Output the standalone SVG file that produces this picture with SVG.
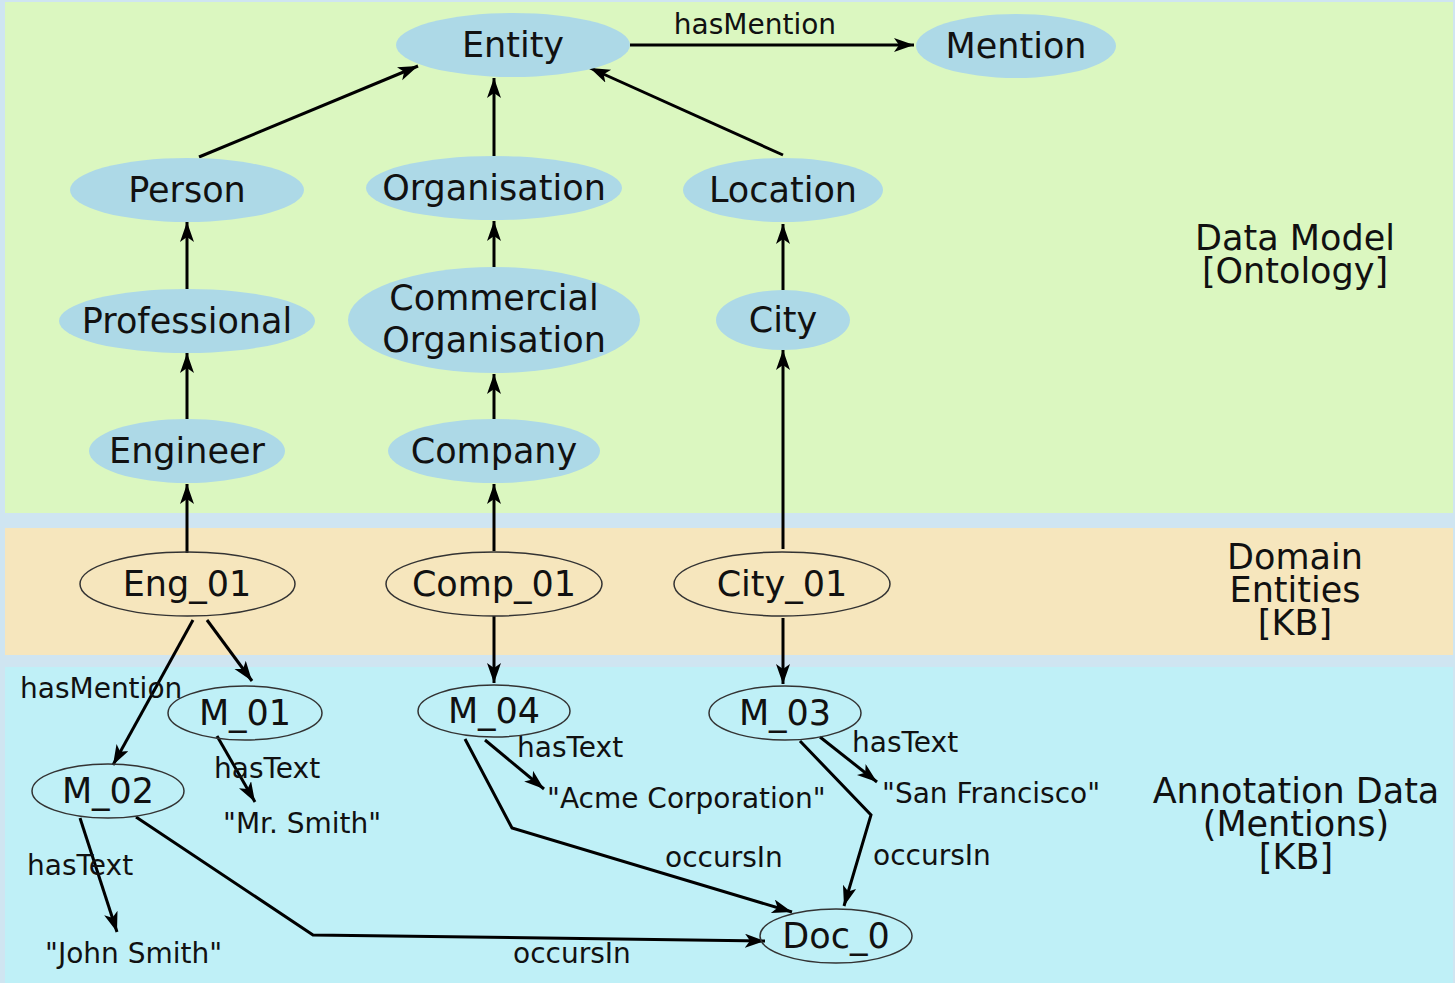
<svg xmlns="http://www.w3.org/2000/svg" width="1455" height="983" viewBox="0 0 1455 983">
<style>
.onto{fill:#add9e7;stroke:none}
.kb{fill:none;stroke:#333;stroke-width:1.5}
.lbl{font-family:"DejaVu Sans","Liberation Sans",sans-serif;font-size:35px;fill:#111;text-anchor:middle}
.sec{font-family:"DejaVu Sans","Liberation Sans",sans-serif;font-size:35px;fill:#111;text-anchor:middle}
.el{font-family:"DejaVu Sans","Liberation Sans",sans-serif;font-size:28px;fill:#111}
.e{fill:none;stroke:#000;stroke-width:3;marker-end:url(#ah)}
</style>
<defs>
<marker id="ah" markerUnits="userSpaceOnUse" markerWidth="22" markerHeight="16" refX="20" refY="7" orient="auto">
<path d="M0,0 L20,7 L0,14 L5,7 z" fill="#000"/>
</marker>
</defs>
<rect x="0" y="0" width="1455" height="983" fill="#cfe5f1"/>
<rect x="5" y="2" width="1448" height="511" fill="#dbf7c0"/>
<rect x="5" y="528" width="1448" height="127" fill="#f6e6bd"/>
<rect x="5" y="667" width="1448" height="316" fill="#bff0f7"/>

<g id="sections">
<text class="sec" x="1295" y="250">Data Model</text>
<text class="sec" x="1295" y="283">[Ontology]</text>
<text class="sec" x="1295" y="569">Domain</text>
<text class="sec" x="1295" y="602">Entities</text>
<text class="sec" x="1295" y="635">[KB]</text>
<text class="sec" x="1296" y="803">Annotation Data</text>
<text class="sec" x="1296" y="836">(Mentions)</text>
<text class="sec" x="1296" y="869">[KB]</text>
</g>

<g id="connectors">
<line class="e" x1="199" y1="157" x2="418" y2="66"/>
<line class="e" x1="494" y1="157" x2="494" y2="78"/>
<line class="e" x1="783" y1="155" x2="590" y2="68"/>
<line class="e" x1="630" y1="45" x2="914" y2="45"/>
<line class="e" x1="187" y1="289" x2="187" y2="222"/>
<line class="e" x1="494" y1="267" x2="494" y2="221"/>
<line class="e" x1="783" y1="290" x2="783" y2="224"/>
<line class="e" x1="187" y1="419" x2="187" y2="353"/>
<line class="e" x1="494" y1="419" x2="494" y2="374"/>
<line class="e" x1="187" y1="553" x2="187" y2="484"/>
<line class="e" x1="494" y1="551" x2="494" y2="484"/>
<line class="e" x1="783" y1="549" x2="783" y2="350"/>
<line class="e" x1="207" y1="620" x2="252" y2="681"/>
<line class="e" x1="193" y1="620" x2="113" y2="765"/>
<line class="e" x1="494" y1="616" x2="494" y2="683"/>
<line class="e" x1="783" y1="618" x2="783" y2="684"/>
<line class="e" x1="217" y1="736" x2="255" y2="802"/>
<line class="e" x1="80" y1="818" x2="117" y2="932"/>
<polyline class="e" points="136,817 313,935 765,941"/>
<line class="e" x1="485" y1="740" x2="544" y2="789"/>
<polyline class="e" points="465,739 512,828 792,912"/>
<line class="e" x1="820" y1="737" x2="877" y2="782"/>
<polyline class="e" points="800,741 871,815 844,906"/>
<text class="el" x="755" y="34" text-anchor="middle">hasMention</text>
<text class="el" x="20" y="698">hasMention</text>
<text class="el" x="214" y="778">hasText</text>
<text class="el" x="27" y="875">hasText</text>
<text class="el" x="517" y="757">hasText</text>
<text class="el" x="852" y="752">hasText</text>
<text class="el" x="665" y="867">occursIn</text>
<text class="el" x="513" y="963">occursIn</text>
<text class="el" x="873" y="865">occursIn</text>
<text class="el" x="223" y="833">"Mr. Smith"</text>
<text class="el" x="45" y="963">"John Smith"</text>
<text class="el" x="547" y="808">"Acme Corporation"</text>
<text class="el" x="882" y="803">"San Francisco"</text>
</g>

<g id="n-entity"><ellipse class="onto" cx="513" cy="45" rx="117" ry="32"/><text class="lbl" x="513" y="57">Entity</text></g>
<g id="n-mention"><ellipse class="onto" cx="1016" cy="46" rx="100" ry="32"/><text class="lbl" x="1016" y="58">Mention</text></g>
<g id="n-person"><ellipse class="onto" cx="187" cy="190" rx="117" ry="32"/><text class="lbl" x="187" y="202">Person</text></g>
<g id="n-organisation"><ellipse class="onto" cx="494" cy="188" rx="128" ry="32"/><text class="lbl" x="494" y="200">Organisation</text></g>
<g id="n-location"><ellipse class="onto" cx="783" cy="190" rx="100" ry="32"/><text class="lbl" x="783" y="202">Location</text></g>
<g id="n-professional"><ellipse class="onto" cx="187" cy="321" rx="128" ry="32"/><text class="lbl" x="187" y="333">Professional</text></g>
<g id="n-commercial"><ellipse class="onto" cx="494" cy="320" rx="146" ry="53"/><text class="lbl" x="494" y="310">Commercial</text><text class="lbl" x="494" y="352">Organisation</text></g>
<g id="n-city"><ellipse class="onto" cx="783" cy="320" rx="67" ry="30"/><text class="lbl" x="783" y="332">City</text></g>
<g id="n-engineer"><ellipse class="onto" cx="187" cy="451" rx="98" ry="32"/><text class="lbl" x="187" y="463">Engineer</text></g>
<g id="n-company"><ellipse class="onto" cx="494" cy="451" rx="106" ry="32"/><text class="lbl" x="494" y="463">Company</text></g>

<g id="n-eng01"><ellipse class="kb" cx="187.5" cy="584" rx="107.5" ry="32"/><text class="lbl" x="187" y="596">Eng_01</text></g>
<g id="n-comp01"><ellipse class="kb" cx="494" cy="584" rx="108" ry="32"/><text class="lbl" x="494" y="596">Comp_01</text></g>
<g id="n-city01"><ellipse class="kb" cx="782" cy="584" rx="108" ry="32"/><text class="lbl" x="782" y="596">City_01</text></g>
<g id="n-m01"><ellipse class="kb" cx="245" cy="713" rx="77" ry="27"/><text class="lbl" x="245" y="725">M_01</text></g>
<g id="n-m02"><ellipse class="kb" cx="108" cy="791" rx="76" ry="27"/><text class="lbl" x="108" y="803">M_02</text></g>
<g id="n-m04"><ellipse class="kb" cx="494" cy="711" rx="76" ry="26"/><text class="lbl" x="494" y="723">M_04</text></g>
<g id="n-m03"><ellipse class="kb" cx="785" cy="713" rx="76" ry="27"/><text class="lbl" x="785" y="725">M_03</text></g>
<g id="n-doc0"><ellipse class="kb" cx="836" cy="936" rx="76" ry="27"/><text class="lbl" x="836" y="948">Doc_0</text></g>
</svg>
